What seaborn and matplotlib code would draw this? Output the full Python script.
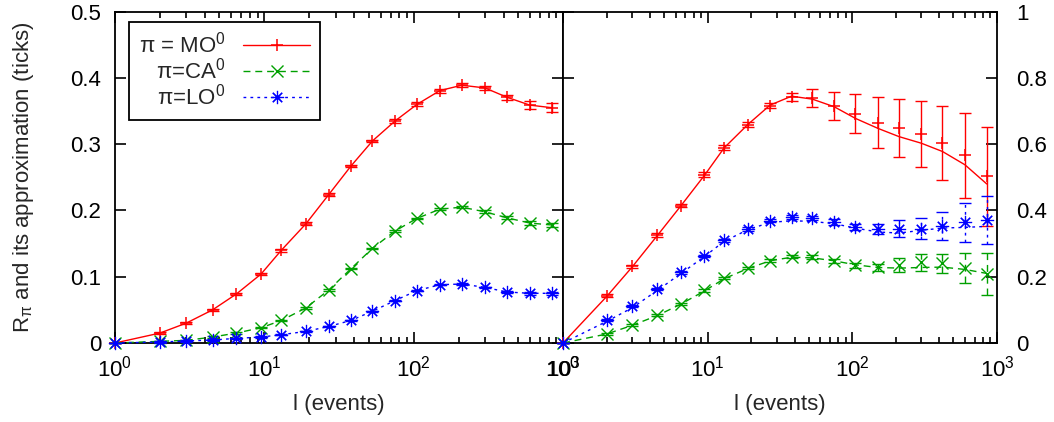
import numpy as np
import matplotlib
matplotlib.use("Agg")
import matplotlib.pyplot as plt
import seaborn as sns
import pandas as pd

# ---------------- data ----------------
events = [1, 2, 3, 4.5, 6.5, 9.5, 13, 19, 27, 38, 53, 75, 105, 150, 210, 300, 420, 600, 850]

# left panel (points with error bars; approximation lines)
left_mo = [0, 0.015, 0.030, 0.050, 0.074, 0.104, 0.140, 0.180, 0.224, 0.267, 0.305,
           0.335, 0.360, 0.381, 0.389, 0.385, 0.371, 0.359, 0.355]
left_mo_err = [0, .002, .002, .002, .002, .002, .002, .002, .002, .002, .002,
               .003, .003, .003, .003, .003, .004, .006, .007]
left_ca = [0, 0.0025, 0.004, 0.009, 0.015, 0.023, 0.034, 0.053, 0.080, 0.112, 0.143,
           0.169, 0.188, 0.202, 0.205, 0.198, 0.189, 0.181, 0.178]
left_ca_err = [0, .001, .001, .001, .001, .001, .001, .001, .001, .001, .001,
               .001, .001, .002, .002, .002, .002, .003, .003]
left_lo = [0, 0.0015, 0.003, 0.0045, 0.007, 0.009, 0.0125, 0.0175, 0.025, 0.034, 0.048,
           0.064, 0.079, 0.088, 0.089, 0.084, 0.077, 0.075, 0.075]
left_lo_err = [0, .001, .001, .001, .001, .001, .001, .001, .001, .001, .001,
               .001, .001, .001, .001, .001, .002, .002, .002]

# right panel
right_mo = [0, 0.143, 0.231, 0.327, 0.415, 0.508, 0.590, 0.659, 0.716, 0.742, 0.739,
            0.716, 0.692, 0.665, 0.648, 0.631, 0.603, 0.566, 0.503]
right_mo_err = [0, .005, .005, .006, .006, .007, .008, .008, .008, .013, .027,
                .042, .059, .077, .088, .100, .112, .128, .150]
right_mo_fit = [0, 0.140, 0.229, 0.325, 0.413, 0.506, 0.589, 0.660, 0.718, 0.745, 0.736,
                0.713, 0.678, 0.648, 0.623, 0.603, 0.578, 0.538, 0.480]
right_ca = [0, 0.027, 0.055, 0.085, 0.119, 0.159, 0.196, 0.226, 0.249, 0.261, 0.259,
            0.248, 0.234, 0.228, 0.236, 0.243, 0.241, 0.226, 0.209]
right_ca_err = [0, .003, .003, .003, .003, .004, .004, .004, .005, .005, .006,
                .007, .008, .010, .022, .025, .029, .046, .063]
right_ca_fit = [0, 0.027, 0.053, 0.083, 0.117, 0.157, 0.194, 0.225, 0.248, 0.259, 0.257,
                0.248, 0.236, 0.228, 0.226, 0.228, 0.229, 0.222, 0.210]
right_lo = [0, 0.068, 0.111, 0.163, 0.213, 0.263, 0.310, 0.344, 0.369, 0.379, 0.377,
            0.365, 0.350, 0.345, 0.345, 0.345, 0.352, 0.364, 0.372]
right_lo_err = [0, .003, .003, .003, .004, .004, .004, .005, .005, .006, .007,
                .008, .010, .015, .026, .031, .042, .058, .073]
right_lo_fit = [0, 0.065, 0.106, 0.159, 0.209, 0.261, 0.307, 0.342, 0.364, 0.369, 0.367,
                0.360, 0.347, 0.335, 0.332, 0.340, 0.347, 0.349, 0.352]

labels = ["π = MO$^{\\mathregular{0}}$", "π=CA$^{\\mathregular{0}}$", "π=LO$^{\\mathregular{0}}$"]
left_yticks = [0, 0.1, 0.2, 0.3, 0.4, 0.5]
right_yticks = [0, 0.2, 0.4, 0.6, 0.8, 1]

# ---------------- style ----------------
sns.set_theme(style="ticks")
plt.rcParams["font.family"] = ["Liberation Sans", "DejaVu Sans"]
plt.rcParams["mathtext.fontset"] = "custom"
plt.rcParams["mathtext.rm"] = "Liberation Sans"
plt.rcParams["mathtext.it"] = "Liberation Sans:italic"
plt.rcParams["axes.linewidth"] = 1.3

colors = ["#ff0000", "#00a000", "#0000ff"]
linestyles = ["-", (0, (5, 3.5)), (0, (2, 3))]
markers = ["+", "x", (8, 2, 0)]
msizes = [9, 8, 9.5]
mews = [1.1, 1.0, 0.85]

fig = plt.figure(figsize=(10.54, 4.22), dpi=100)
ax1 = fig.add_axes([115 / 1054, 1 - 343 / 422, 448 / 1054, 331.3 / 422])
ax2 = fig.add_axes([563 / 1054, 1 - 343 / 422, 434 / 1054, 331.3 / 422])

def panel(ax, pts, errs, fits):
    handles = []
    for i in range(3):
        df = pd.DataFrame({"x": events, "y": fits[i]})
        sns.lineplot(data=df, x="x", y="y", ax=ax, color=colors[i], lw=1.0,
                     linestyle=linestyles[i], estimator=None, sort=False,
                     clip_on=False, zorder=3 + i)
        eb = ax.errorbar(events, pts[i], yerr=errs[i], fmt="none", ecolor=colors[i],
                         elinewidth=1.0, capsize=4.5, capthick=1.0, zorder=3 + i,
                         clip_on=False)
        eb[2][0].set_linestyle(linestyles[i])
        ax.plot(events, pts[i], linestyle="none", marker=markers[i], ms=msizes[i],
                mew=mews[i], color=colors[i], clip_on=False, zorder=4 + i)
        h, = ax.plot([], [], color=colors[i], linestyle=linestyles[i], lw=1.0,
                     marker=markers[i], ms=msizes[i], mew=mews[i])
        handles.append(h)
    ax.set_xscale("log")
    ax.set_xlim(1, 1000)
    ax.tick_params(which="both", direction="in", top=True, bottom=True,
                   left=True, right=True, labelsize=16, width=1.2, colors="black")
    ax.tick_params(which="major", length=8)
    ax.tick_params(which="minor", length=4.5)
    ax.tick_params(axis="x", which="major", pad=9)
    ax.set_xlabel("l (events)", fontsize=16)
    ax.xaxis.set_label_coords(0.5, -0.155)
    ax.set_ylabel("")
    for s in ax.spines.values():
        s.set_color("black")
        s.set_linewidth(1.3)
    return handles

handles = panel(ax1, [left_mo, left_ca, left_lo],
                [left_mo_err, left_ca_err, left_lo_err],
                [left_mo, left_ca, left_lo])
panel(ax2, [right_mo, right_ca, right_lo],
      [right_mo_err, right_ca_err, right_lo_err],
      [right_mo_fit, right_ca_fit, right_lo_fit])

ax1.set_ylim(0, 0.5)
ax1.set_yticks(left_yticks)
ax1.set_yticklabels([f"{v:g}" for v in left_yticks])
ax1.tick_params(axis="y", labelleft=True, labelright=False, pad=10)

ax2.set_ylim(0, 1)
ax2.set_yticks(right_yticks)
ax2.set_yticklabels([f"{v:g}" for v in right_yticks])
ax2.tick_params(axis="y", labelleft=False, labelright=True, pad=14)

leg = ax1.legend(handles, labels, loc="upper left", bbox_to_anchor=(0.031, 0.969),
                 borderaxespad=0, markerfirst=False, fontsize=16, handlelength=3.0,
                 labelspacing=0.0, frameon=True, fancybox=False, framealpha=1,
                 edgecolor="black", borderpad=0.45, handletextpad=0.8)
leg.get_frame().set_linewidth(1.3)

fig.text(24 / 1054, 1 - 177 / 422, "R$_{\\mathregular{π}}$ and its approximation (ticks)",
         rotation=90, ha="center", va="center", fontsize=16)

fig.savefig("out.png", dpi=100)
